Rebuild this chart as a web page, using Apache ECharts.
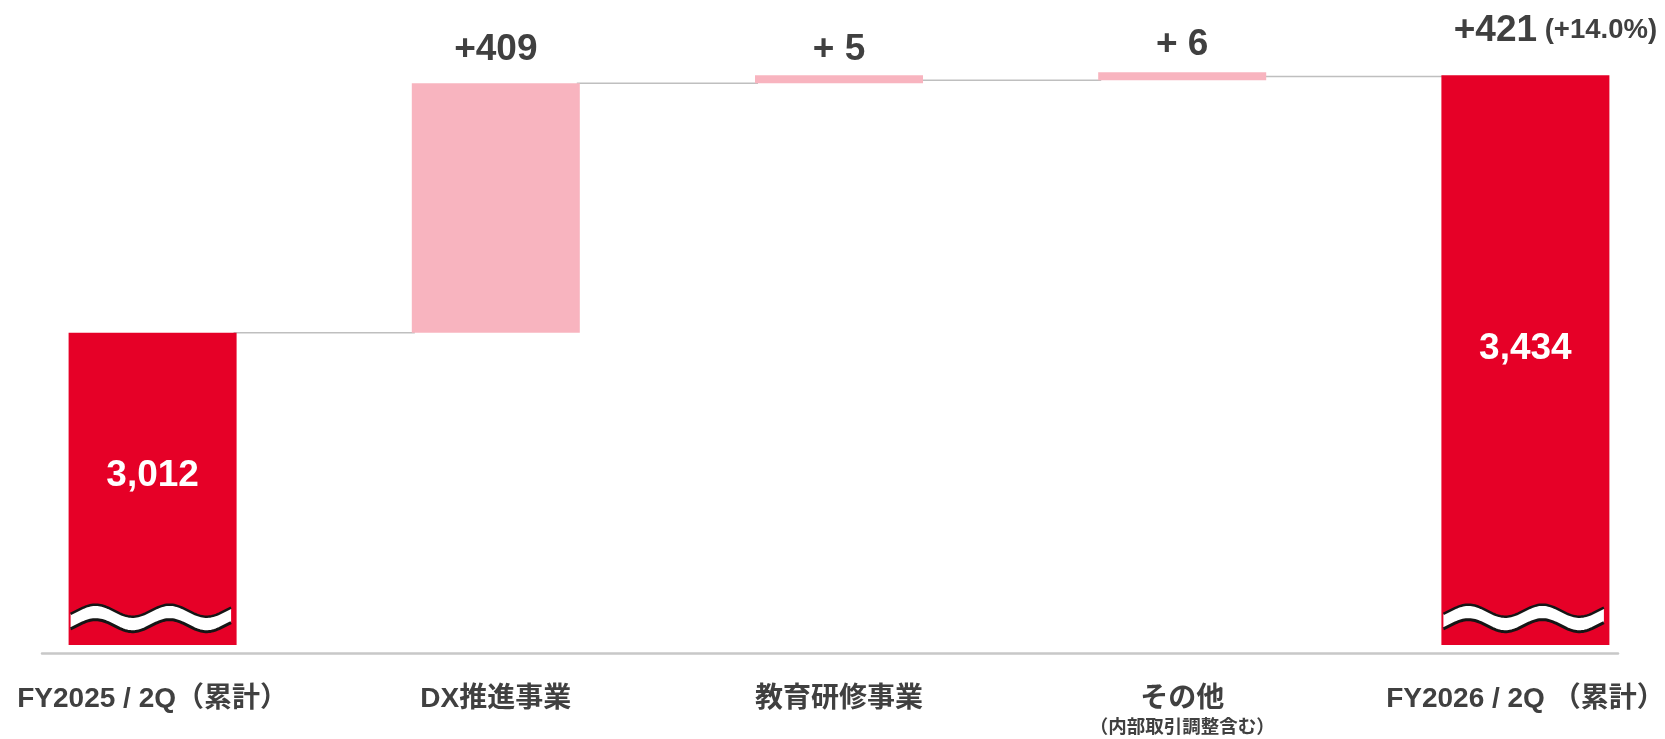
<!DOCTYPE html>
<html>
<head>
<meta charset="utf-8">
<script src="https://cdn.jsdelivr.net/npm/echarts@6/dist/echarts.min.js"></script>
<style>
html,body{margin:0;padding:0;background:#ffffff;}
#chart{width:1665px;height:739px;}
</style>
</head>
<body>
<div id="chart"></div>
<script>
// ---------------- data ----------------
const categories = ['FY2025 / 2Q（累計）', 'DX推進事業', '教育研修事業', 'その他', 'FY2026 / 2Q （累計）'];
const categoryNotes = ['', '', '', '（内部取引調整含む）', ''];
const startTotal = 3012;
const endTotal = 3434;
const changes = [409, 5, 6];
const changeLabels = ['+409', '+ 5', '+ 6'];
const totalChangeLabel = '+421';
const totalChangePct = '(+14.0%)';
const axisBreakBase = 2500;   // broken value axis starts here
const axisTopValue = 3500;
const breakMarkValue = 2544;  // where the wavy "break" mark sits

// ---------------- derived ----------------
const levels = [startTotal];
changes.forEach(c => levels.push(levels[levels.length - 1] + c));   // running totals
const baseData = [axisBreakBase, levels[0], levels[1], levels[2], axisBreakBase];
const deltaData = [startTotal - axisBreakBase, ...changes, endTotal - axisBreakBase];

const RED = '#E60027';
const PINK = '#F8B4BF';
const TXT = '#404040';
const BAR_W = 168;
const FONT = "'Liberation Sans', Arial, 'Noto Sans CJK JP', sans-serif";
const fmt = v => v.toLocaleString('en-US');

const topDist = [15, 7, 9];
const insideOffset = [-13, -11];

const deltaItems = deltaData.map((v, i) => {
  const isTotal = (i === 0 || i === deltaData.length - 1);
  const item = {
    value: v,
    itemStyle: { color: isTotal ? RED : PINK }
  };
  if (isTotal) {
    item.label = {
      show: true, position: 'inside', offset: [0, insideOffset[i === 0 ? 0 : 1]],
      color: '#ffffff', fontSize: 37, fontWeight: 'bold', fontFamily: FONT,
      formatter: fmt(i === 0 ? startTotal : endTotal)
    };
  } else {
    item.label = {
      show: true, position: 'top', distance: topDist[i - 1],
      color: TXT, fontSize: 37, fontWeight: 'bold', fontFamily: FONT,
      formatter: changeLabels[i - 1]
    };
  }
  return item;
});

const chart = echarts.init(document.getElementById('chart'), null, { renderer: 'canvas' });

chart.setOption({
  animation: false,
  backgroundColor: '#ffffff',
  grid: [
    { left: -19, right: -32, top: 35, bottom: 94, outerBoundsMode: 'none', containLabel: false },
    { left: 42, right: 47, top: 35, bottom: 86, outerBoundsMode: 'none', containLabel: false }
  ],
  xAxis: [
    {
      type: 'category', gridIndex: 0, data: categories,
      axisLine: { show: false }, axisTick: { show: false },
      axisLabel: {
        interval: 0, margin: 39, color: TXT, fontFamily: FONT,
        formatter: (val, idx) => {
          const note = categoryNotes[idx];
          return note ? '{a|' + val + '}\n{b|' + note + '}' : '{a|' + val + '}';
        },
        rich: {
          a: { fontSize: 28, fontWeight: 'bold', color: TXT, lineHeight: 30, fontFamily: FONT },
          b: { fontSize: 18.5, fontWeight: 'bold', color: TXT, lineHeight: 28, fontFamily: FONT }
        }
      }
    },
    {
      type: 'value', gridIndex: 1, min: 0, max: 1,
      axisLine: { show: true, onZero: false, lineStyle: { color: '#C8C8C8', width: 2.5 } },
      axisTick: { show: false }, axisLabel: { show: false }, splitLine: { show: false }
    }
  ],
  yAxis: [
    { type: 'value', gridIndex: 0, min: axisBreakBase, max: axisTopValue, show: false, splitLine: { show: false } },
    { type: 'value', gridIndex: 1, show: false }
  ],
  series: [
    {
      name: 'base', type: 'bar', stack: 'wf', xAxisIndex: 0, yAxisIndex: 0,
      barWidth: BAR_W, data: baseData, silent: true,
      itemStyle: { color: 'rgba(0,0,0,0)' },
      emphasis: { disabled: true }
    },
    {
      name: 'delta', type: 'bar', stack: 'wf', xAxisIndex: 0, yAxisIndex: 0,
      barWidth: BAR_W, barMinHeight: 8, data: deltaItems, silent: true,
      emphasis: { disabled: true }
    },
    {
      name: 'connectors', type: 'custom', xAxisIndex: 0, yAxisIndex: 0, silent: true, z: 1,
      data: levels.map((v, i) => [i, v]),
      renderItem: (params, api) => {
        const i = api.value(0), v = api.value(1);
        const p1 = api.coord([i, v]);
        const p2 = api.coord([i + 1, v]);
        return {
          type: 'line',
          shape: { x1: p1[0] + BAR_W / 2 - 3, y1: p1[1], x2: p2[0] - BAR_W / 2 + 3, y2: p2[1] },
          style: { stroke: '#BFBFBF', lineWidth: 1.5 }
        };
      }
    },
    {
      name: 'break', type: 'custom', xAxisIndex: 0, yAxisIndex: 0, silent: true, z: 5,
      data: [[0, breakMarkValue], [categories.length - 1, breakMarkValue]],
      renderItem: (params, api) => {
        const c = api.coord([api.value(0), api.value(1)]);
        const x0 = c[0] - BAR_W / 2 + 2, x1 = c[0] + BAR_W / 2 - 5;
        const top = [], bot = [];
        for (let x = x0; x <= x1 + 0.01; x += 1.5) {
          const rel = x - x0;
          const y = c[1] - 7.5 - 6 * Math.cos(2 * Math.PI * (rel - 25) / 74);
          top.push([x, y]);
          bot.push([x, y + 15]);
        }
        return {
          type: 'group',
          children: [
            { type: 'polygon', shape: { points: top.concat(bot.slice().reverse()) }, style: { fill: '#ffffff' } },
            { type: 'polyline', shape: { points: top }, style: { stroke: '#151515', lineWidth: 2.5, fill: null } },
            { type: 'polyline', shape: { points: bot }, style: { stroke: '#151515', lineWidth: 3, fill: null } }
          ]
        };
      }
    },
    {
      name: 'totalChange', type: 'custom', xAxisIndex: 0, yAxisIndex: 0, silent: true, z: 6,
      data: [[categories.length - 1, endTotal]],
      renderItem: (params, api) => {
        const c = api.coord([api.value(0), api.value(1)]);
        return {
          type: 'text',
          x: c[0] + 30,
          y: c[1] - 26,
          style: {
            text: '{a|' + totalChangeLabel + '}{b| ' + totalChangePct + '}',
            align: 'center',
            verticalAlign: 'bottom',
            fill: TXT,
            rich: {
              a: { fontSize: 37, fontWeight: 'bold', fill: TXT, fontFamily: FONT },
              b: { fontSize: 27.5, fontWeight: 'bold', fill: TXT, fontFamily: FONT }
            }
          }
        };
      }
    }
  ]
});
</script>
</body>
</html>
